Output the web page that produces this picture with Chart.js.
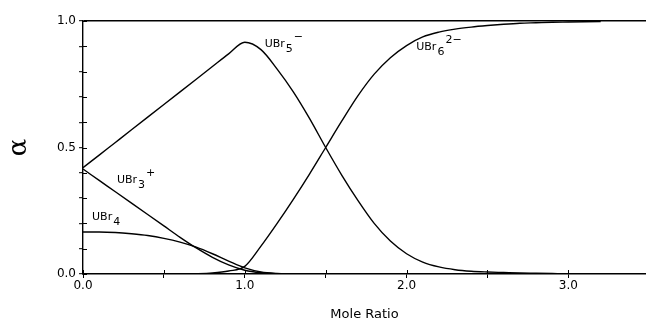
<!DOCTYPE html>
<html>
<head>
<meta charset="utf-8">
<title>Uranium bromide species distribution</title>
<script src="https://cdn.jsdelivr.net/npm/chart.js@4/dist/chart.umd.min.js"></script>
<style>
  html, body { margin: 0; padding: 0; background: #fff; }
  #wrap { width: 646px; height: 323px; }
</style>
</head>
<body>
<div id="wrap"><canvas id="speciesChart" width="646" height="323"></canvas></div>
<script>
// Mole ratio grid shared by every species
const moleRatio = [0.0, 0.1, 0.2, 0.3, 0.4, 0.5, 0.6, 0.7, 0.8, 0.9, 1.0,
  1.1, 1.2, 1.3, 1.4, 1.5, 1.6, 1.7, 1.8, 1.9, 2.0,
  2.1, 2.2, 2.3, 2.4, 2.5, 2.6, 2.7, 2.8, 2.9, 3.0, 3.1, 3.2];

// Fraction (alpha) of each species at the mole ratios above
const alphaUBr5 = [0.42, 0.47, 0.52, 0.57, 0.62, 0.67, 0.72, 0.77, 0.82, 0.87, 0.916,
  0.887, 0.81, 0.72, 0.615, 0.50, 0.39, 0.29, 0.20, 0.13, 0.08,
  0.047, 0.028, 0.017, 0.011, 0.008, 0.006, 0.004, 0.003, 0.002, 0.001, 0.001, 0];
const alphaUBr6 = [0, 0, 0, 0, 0, 0, 0, 0.001, 0.004, 0.012, 0.03,
  0.11, 0.2, 0.295, 0.395, 0.50, 0.605, 0.705, 0.79, 0.855, 0.903,
  0.937, 0.956, 0.968, 0.976, 0.982, 0.987, 0.991, 0.993, 0.995, 0.996, 0.997, 0.998];
const alphaUBr3 = [0.415, 0.37, 0.325, 0.28, 0.235, 0.19, 0.145, 0.103, 0.066, 0.036, 0.015,
  0.005, 0.001, 0, 0, 0, 0, 0, 0, 0, 0,
  0, 0, 0, 0, 0, 0, 0, 0, 0, 0, 0, 0];
const alphaUBr4 = [0.166, 0.166, 0.164, 0.159, 0.152, 0.141, 0.126, 0.106, 0.08, 0.051, 0.024,
  0.008, 0.002, 0, 0, 0, 0, 0, 0, 0, 0,
  0, 0, 0, 0, 0, 0, 0, 0, 0, 0, 0, 0];

// Axis ticks that carry a label
const xTickLabels = [0, 1, 2, 3];
const yTickLabels = [0, 0.5, 1.0];

const pts = vals => moleRatio.map((m, i) => ({ x: m, y: vals[i] }));

const FONT = "'DejaVu Sans', sans-serif";

// inner half of the tick marks (Chart.js only draws them outside)
const innerTicks = {
  id: "innerTicks",
  afterDraw(chart) {
    const { ctx, scales: { x, y } } = chart;
    ctx.save();
    ctx.strokeStyle = "#000";
    ctx.lineWidth = 1;
    y.ticks.forEach(t => {
      const py = Math.round(y.getPixelForValue(t.value)) + 0.5;
      ctx.beginPath();
      ctx.moveTo(x.left, py);
      ctx.lineTo(x.left + 4, py);
      ctx.stroke();
    });
    x.ticks.forEach(t => {
      const px = Math.round(x.getPixelForValue(t.value)) + 0.5;
      ctx.beginPath();
      ctx.moveTo(px, y.bottom);
      ctx.lineTo(px, y.bottom - 4);
      ctx.stroke();
    });
    ctx.restore();
  }
};

// species names with sub/superscripts, anchored in data units
const speciesLabels = {
  id: "speciesLabels",
  afterDatasetsDraw(chart) {
    const { ctx, scales: { x, y } } = chart;
    const labels = [
      { at: [1.123, 0.899], sub: "5", sup: "\u2212" },
      { at: [2.06, 0.887], sub: "6", sup: "2\u2212" },
      { at: [0.21, 0.36], sub: "3", sup: "+" },
      { at: [0.056, 0.214], sub: "4", sup: "" }
    ];
    ctx.save();
    ctx.fillStyle = "#000";
    ctx.textBaseline = "alphabetic";
    ctx.textAlign = "left";
    labels.forEach(l => {
      let px = x.getPixelForValue(l.at[0]);
      const py = y.getPixelForValue(l.at[1]);
      ctx.font = "11px " + FONT;
      ctx.fillText("UBr", px, py);
      px += ctx.measureText("UBr").width + 1;
      ctx.fillText(l.sub, px, py + 5);
      px += ctx.measureText(l.sub).width + 1;
      if (l.sup) ctx.fillText(l.sup, px, py - 7);
    });
    ctx.restore();
  }
};

const line = (vals) => ({
  data: pts(vals),
  borderColor: "#000",
  borderWidth: 1.4,
  pointRadius: 0,
  fill: false,
  showLine: true,
  cubicInterpolationMode: "monotone"
});

new Chart(document.getElementById("speciesChart"), {
  type: "scatter",
  data: {
    datasets: [
      { label: "UBr5-", ...line(alphaUBr5) },
      { label: "UBr6 2-", ...line(alphaUBr6) },
      { label: "UBr3+", ...line(alphaUBr3) },
      { label: "UBr4", ...line(alphaUBr4) }
    ]
  },
  options: {
    responsive: false,
    animation: false,
    devicePixelRatio: 1,
    layout: { padding: { top: 21, right: 0, left: 0, bottom: 0 } },
    plugins: {
      legend: { display: false },
      tooltip: { enabled: false }
    },
    scales: {
      x: {
        type: "linear",
        min: 0,
        max: 3.48,
        afterBuildTicks: scale => {
          scale.ticks = scale.ticks.filter(t => Math.abs(t.value * 2 - Math.round(t.value * 2)) < 1e-6);
        },
        afterFit: scale => { scale.height = 49; },
        ticks: {
          stepSize: 0.5,
          autoSkip: false,
          maxRotation: 0,
          padding: 1,
          color: "#000",
          font: { family: FONT, size: 12 },
          callback: v => xTickLabels.includes(v) ? v.toFixed(1) : ""
        },
        grid: { drawOnChartArea: false, tickLength: 4, tickColor: "#000" },
        border: { display: true, color: "#000", width: 1.4 },
        title: {
          display: true,
          text: "Mole Ratio",
          color: "#000",
          font: { family: FONT, size: 13 },
          padding: { top: 0, bottom: 1 }
        }
      },
      y: {
        min: 0,
        max: 1,
        afterFit: scale => { scale.width = 83; },
        ticks: {
          stepSize: 0.1,
          padding: 3,
          color: "#000",
          font: { family: FONT, size: 12 },
          callback: v => yTickLabels.some(l => Math.abs(l - v) < 1e-6) ? v.toFixed(1) : ""
        },
        grid: {
          color: c => (c.tick && Math.abs(c.tick.value - 1) < 1e-6) ? "#000" : "rgba(0,0,0,0)",
          lineWidth: 1.4,
          tickLength: 4,
          tickColor: "#000",
          tickWidth: 1
        },
        border: { display: true, color: "#000", width: 1.4 },
        title: {
          display: true,
          text: "\u03b1",
          color: "#000",
          font: { family: "'DejaVu Serif', serif", size: 26 },
          padding: { top: 4, bottom: 0 }
        }
      }
    }
  },
  plugins: [innerTicks, speciesLabels]
});
</script>
</body>
</html>
